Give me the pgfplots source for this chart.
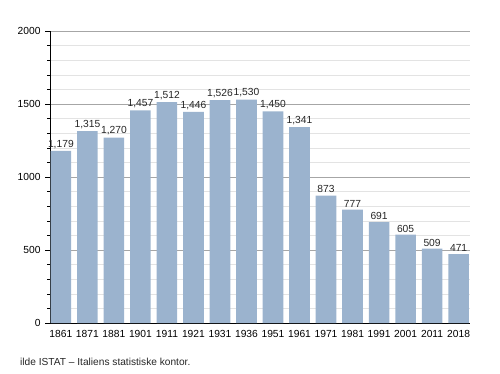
\documentclass[border=0pt]{standalone}
\usepackage{fontspec}
\setmainfont{Liberation Sans}
\usepackage{pgfplots}
\pgfplotsset{compat=1.18}
\definecolor{barfill}{HTML}{9BB3CE}
\begin{document}
\begin{tikzpicture}[x=1bp,y=1bp]
\path[use as bounding box] (0,0) rectangle (500,373);
\begin{axis}[
  at={(50bp,50bp)}, anchor=south west,
  scale only axis, width=420bp, height=292bp,
  xmin=-0.41, xmax=15.43, ymin=0, ymax=2000,
  axis x line*=bottom, axis y line*=left,
  axis line style={black, line width=0.8pt},
  xtick=data,
  xticklabels={1861,1871,1881,1901,1911,1921,1931,1936,1951,1961,1971,1981,1991,2001,2011,2018},
  x tick style={draw=none},
  ytick={0,500,1000,1500,2000},
  minor ytick={100,200,300,400,600,700,800,900,1100,1200,1300,1400,1600,1700,1800,1900},
  ymajorgrids, yminorgrids,
  major grid style={gray!70, line width=0.6pt},
  minor grid style={gray!22, line width=0.6pt},
  y tick style={black, line width=0.6pt},
  major tick length=5bp, minor tick length=3bp,
  tick align=outside,
  yticklabel style={/pgf/number format/1000 sep={}, font=\fontsize{10.3}{12}\selectfont, xshift=-1bp},
  xticklabel style={font=\fontsize{10.3}{12}\selectfont, yshift=1bp},
  /pgf/number format/assume math mode=true,
  ybar, bar width=20.6bp,
  nodes near coords,
  nodes near coords style={font=\fontsize{10.3}{12}\selectfont, /pgf/number format/1000 sep={,}, text=black!85, yshift=-1bp},
  clip=false,
]
\addplot[fill=barfill, draw=none] coordinates {
(0,1179) (1,1315) (2,1270) (3,1457) (4,1512) (5,1446) (6,1526) (7,1530)
(8,1450) (9,1341) (10,873) (11,777) (12,691) (13,605) (14,509) (15,471)};
\end{axis}
\node[anchor=base west, font=\fontsize{10.2}{12}\selectfont, text=black!85, inner sep=0] at (20,8) {ilde ISTAT – Italiens statistiske kontor.};
\end{tikzpicture}
\end{document}
